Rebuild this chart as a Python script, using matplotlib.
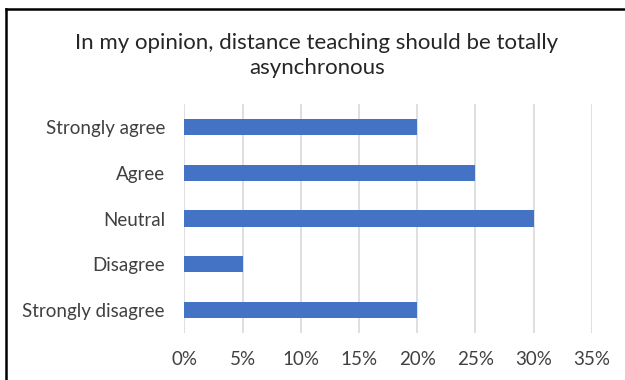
import matplotlib.pyplot as plt
from matplotlib.lines import Line2D
import numpy as np

# survey answers, top to bottom as shown
categories = ['Strongly agree', 'Agree', 'Neutral', 'Disagree', 'Strongly disagree']
shares = [20, 25, 30, 5, 20]
xticks = [0, 5, 10, 15, 20, 25, 30, 35]
xtick_labels = ['0%', '5%', '10%', '15%', '20%', '25%', '30%', '35%']

plt.rcParams['font.family'] = ['Lato', 'DejaVu Sans']

fig = plt.figure(figsize=(6.25, 3.8), dpi=100)
ax = fig.add_axes([0.295, 0.124, 0.652, 0.602])

ypos = np.arange(len(categories))[::-1]
ax.barh(ypos, shares, height=0.35, color='#4472C4', zorder=3)

ax.set_xlim(0, 35)
ax.set_ylim(-0.5, len(categories) - 0.5)
ax.set_xticks(xticks)
ax.set_xticklabels(xtick_labels)
ax.set_yticks(ypos)
ax.set_yticklabels(categories)
ax.tick_params(axis='both', length=0, labelsize=13.5, colors='#404040')
ax.tick_params(axis='x', pad=13)
ax.tick_params(axis='y', pad=14)
ax.xaxis.grid(True, color='#d9d9d9', linewidth=1.2, zorder=0)
for s in ax.spines.values():
    s.set_visible(False)

fig.text(0.507, 0.853, 'In my opinion, distance teaching should be totally\nasynchronous',
         ha='center', va='center', fontsize=16, color='#262626', linespacing=1.3)

# frame: only the top and left edges are visible
fig.add_artist(Line2D([0.009, 0.009], [0.0, 0.976], transform=fig.transFigure,
                      color='black', linewidth=1.8))
fig.add_artist(Line2D([0.009, 1.0], [0.976, 0.976], transform=fig.transFigure,
                      color='black', linewidth=1.8))

fig.savefig('out.png', dpi=100)
